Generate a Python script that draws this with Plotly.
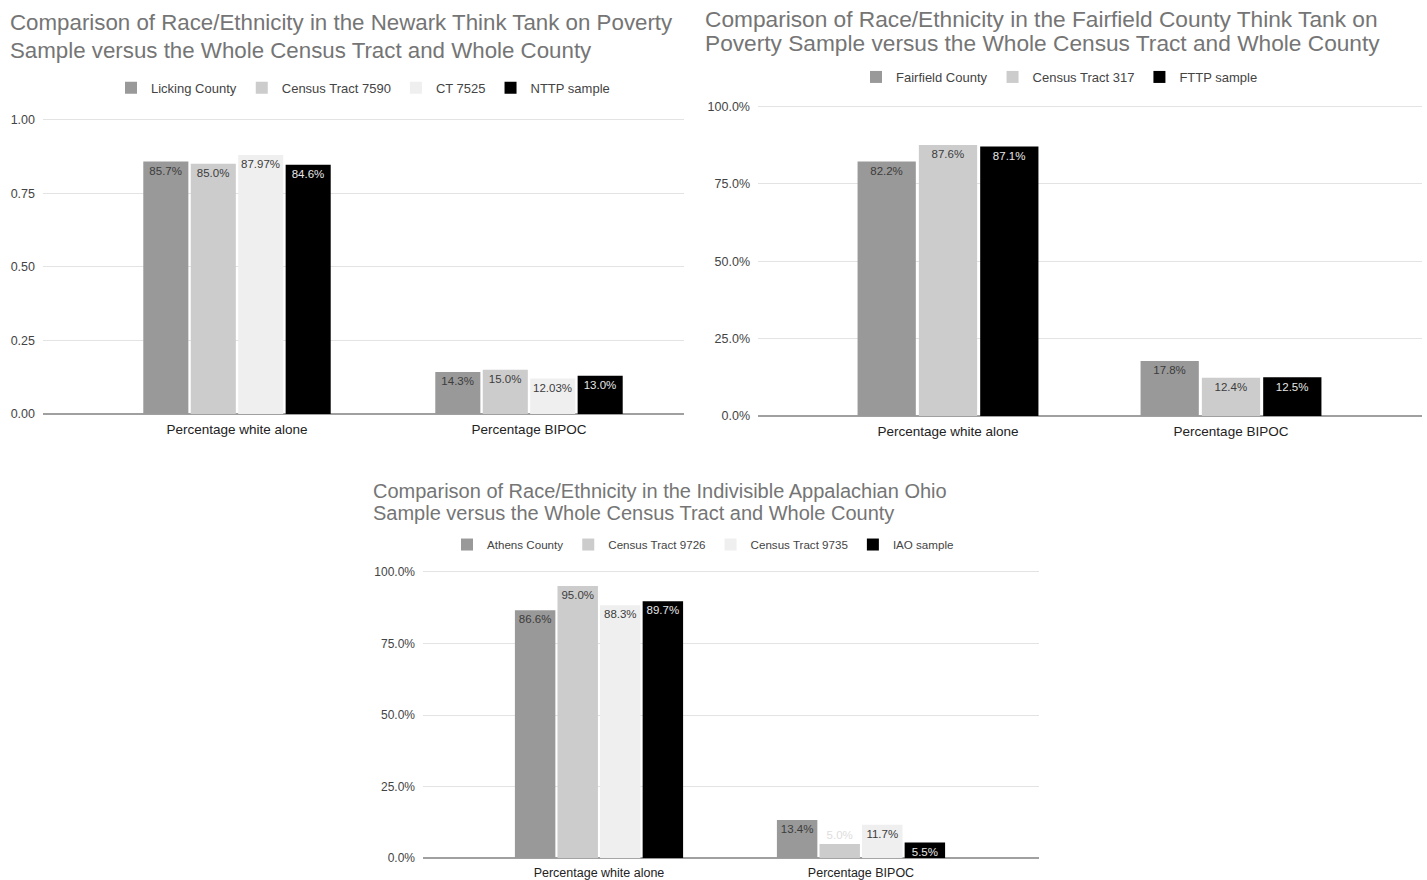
import plotly.graph_objects as go

FONT = "Liberation Sans, Arial, sans-serif"

categories = ["Percentage white alone", "Percentage BIPOC"]

# Chart 1: Newark Think Tank on Poverty
c1_series = ["Licking County", "Census Tract 7590", "CT 7525", "NTTP sample"]
c1_values = [[0.857, 0.143], [0.850, 0.150], [0.8797, 0.1203], [0.846, 0.130]]
c1_labels = [["85.7%", "14.3%"], ["85.0%", "15.0%"], ["87.97%", "12.03%"], ["84.6%", "13.0%"]]
c1_title = ["Comparison of Race/Ethnicity in the Newark Think Tank on Poverty",
            "Sample versus the Whole Census Tract and Whole County"]
c1_ticks = [0, 0.25, 0.5, 0.75, 1.0]

# Chart 2: Fairfield County Think Tank on Poverty
c2_series = ["Fairfield County", "Census Tract 317", "FTTP sample"]
c2_values = [[0.822, 0.178], [0.876, 0.124], [0.871, 0.125]]
c2_labels = [["82.2%", "17.8%"], ["87.6%", "12.4%"], ["87.1%", "12.5%"]]
c2_title = ["Comparison of Race/Ethnicity in the Fairfield County Think Tank on",
            "Poverty Sample versus the Whole Census Tract and Whole County"]
c2_ticks = [0, 0.25, 0.5, 0.75, 1.0]

# Chart 3: Indivisible Appalachian Ohio
c3_series = ["Athens County", "Census Tract 9726", "Census Tract 9735", "IAO sample"]
c3_values = [[0.866, 0.134], [0.950, 0.050], [0.883, 0.117], [0.897, 0.055]]
c3_labels = [["86.6%", "13.4%"], ["95.0%", "5.0%"], ["88.3%", "11.7%"], ["89.7%", "5.5%"]]
c3_title = ["Comparison of Race/Ethnicity in the Indivisible Appalachian Ohio",
            "Sample versus the Whole Census Tract and Whole County"]
c3_ticks = [0, 0.25, 0.5, 0.75, 1.0]

c1_colors = ["#999999", "#cccccc", "#efefef", "#000000"]
c2_colors = ["#999999", "#cccccc", "#000000"]
c3_colors = ["#999999", "#cccccc", "#efefef", "#000000"]

W, H = 1427, 880
TOPPAD = 0.01  # small headroom so the top gridline is drawn


def px(x):
    return x / W


def py(y):
    return 1 - y / H


def ycomp(y):
    # compensate observed vertical compression of the rendered page
    return (y - 3.3) / 0.988


fig = go.Figure()


def add_chart(series, values, labels, colors, xa, ya, legend, size, outside=None):
    for i, name in enumerate(series):
        dark = colors[i] == "#000000"
        tcol = ["#e6e6e6" if dark else "#3c3c3c"] * len(categories)
        tpos = ["inside"] * len(categories)
        if outside is not None and outside[0] == i:
            tpos[outside[1]] = "outside"
            tcol[outside[1]] = "#dddddd"
        fig.add_trace(go.Bar(
            x=categories, y=values[i], name=name, text=labels[i],
            textposition=tpos, insidetextanchor="end", textangle=0,
            textfont=dict(family=FONT, size=size, color=tcol),
            marker=dict(color=colors[i], line=dict(width=0)),
            xaxis=xa, yaxis=ya, legend=legend, cliponaxis=False,
            constraintext="none",
        ))


add_chart(c1_series, c1_values, c1_labels, c1_colors, "x", "y", "legend", 12)
add_chart(c2_series, c2_values, c2_labels, c2_colors, "x2", "y2", "legend2", 12)
add_chart(c3_series, c3_values, c3_labels, c3_colors, "x3", "y3", "legend3", 11.5, outside=(1, 1))


def xaxis(x0, x1, c0, c1, size):
    scale = c1 - c0
    a = -(c0 - x0) / scale
    b = a + (x1 - x0) / scale
    return dict(domain=[px(x0), px(x1)], range=[a, b], showgrid=False,
                showline=False, zeroline=False, ticks="", ticklabelstandoff=5,
                tickfont=dict(family=FONT, size=size, color="#222222"))


def yaxis(ytop, ybot, xanchor, fmt, ticks, size):
    ytop, ybot = ycomp(ytop), ycomp(ybot)
    top = ytop - TOPPAD * (ybot - ytop)
    return dict(domain=[py(ybot), py(top)], range=[0, 1 + TOPPAD], anchor=xanchor,
                tickvals=ticks, tickformat=fmt, showgrid=True,
                gridcolor="#e3e3e3", gridwidth=1, zeroline=True,
                zerolinecolor="#a0a0a0", zerolinewidth=2, showline=False,
                ticks="", ticklabelstandoff=7,
                tickfont=dict(family=FONT, size=size, color="#444444"))


def legend(xc, yc, size):
    return dict(orientation="h", x=px(xc), y=py(yc), xanchor="center",
                yanchor="middle", bgcolor="rgba(0,0,0,0)",
                font=dict(family=FONT, size=size, color="#444444"),
                itemclick=False, itemdoubleclick=False, traceorder="normal")


annotations = []


def title(lines, x, ys, size):
    for line, y in zip(lines, ys):
        annotations.append(dict(text=line, x=px(x), y=py(y), xref="paper",
                                yref="paper", xanchor="left", yanchor="middle",
                                showarrow=False,
                                font=dict(family=FONT, size=size, color="#757575")))


title(c1_title, 8, [18.5, 47], 22.3)
title(c2_title, 703, [15, 39.5], 22.7)
title(c3_title, 371, [494, 516], 20)

fig.update_layout(
    width=W, height=H, autosize=False,
    margin=dict(l=0, r=0, t=0, b=0),
    paper_bgcolor="white", plot_bgcolor="white",
    barmode="group", bargap=0.35, bargroupgap=0.05,
    uniformtext=dict(minsize=10, mode="show"),
    xaxis=xaxis(43, 684, 237, 529, 13.5),
    yaxis=yaxis(119, 414, "x", ".2f", c1_ticks, 12.5),
    xaxis2=dict(xaxis(758, 1422, 948, 1231, 13.5), anchor="y2"),
    yaxis2=yaxis(106, 416, "x2", ".1%", c2_ticks, 12.5),
    xaxis3=dict(xaxis(423, 1039, 599, 861, 12.5), anchor="y3"),
    yaxis3=yaxis(572, 859, "x3", ".1%", c3_ticks, 12),
    legend=legend(363, 85, 13),
    legend2=legend(1059.5, 74, 13),
    legend3=legend(703, 548, 11.6),
    annotations=annotations,
    showlegend=True,
)

fig.write_html("out.html")
